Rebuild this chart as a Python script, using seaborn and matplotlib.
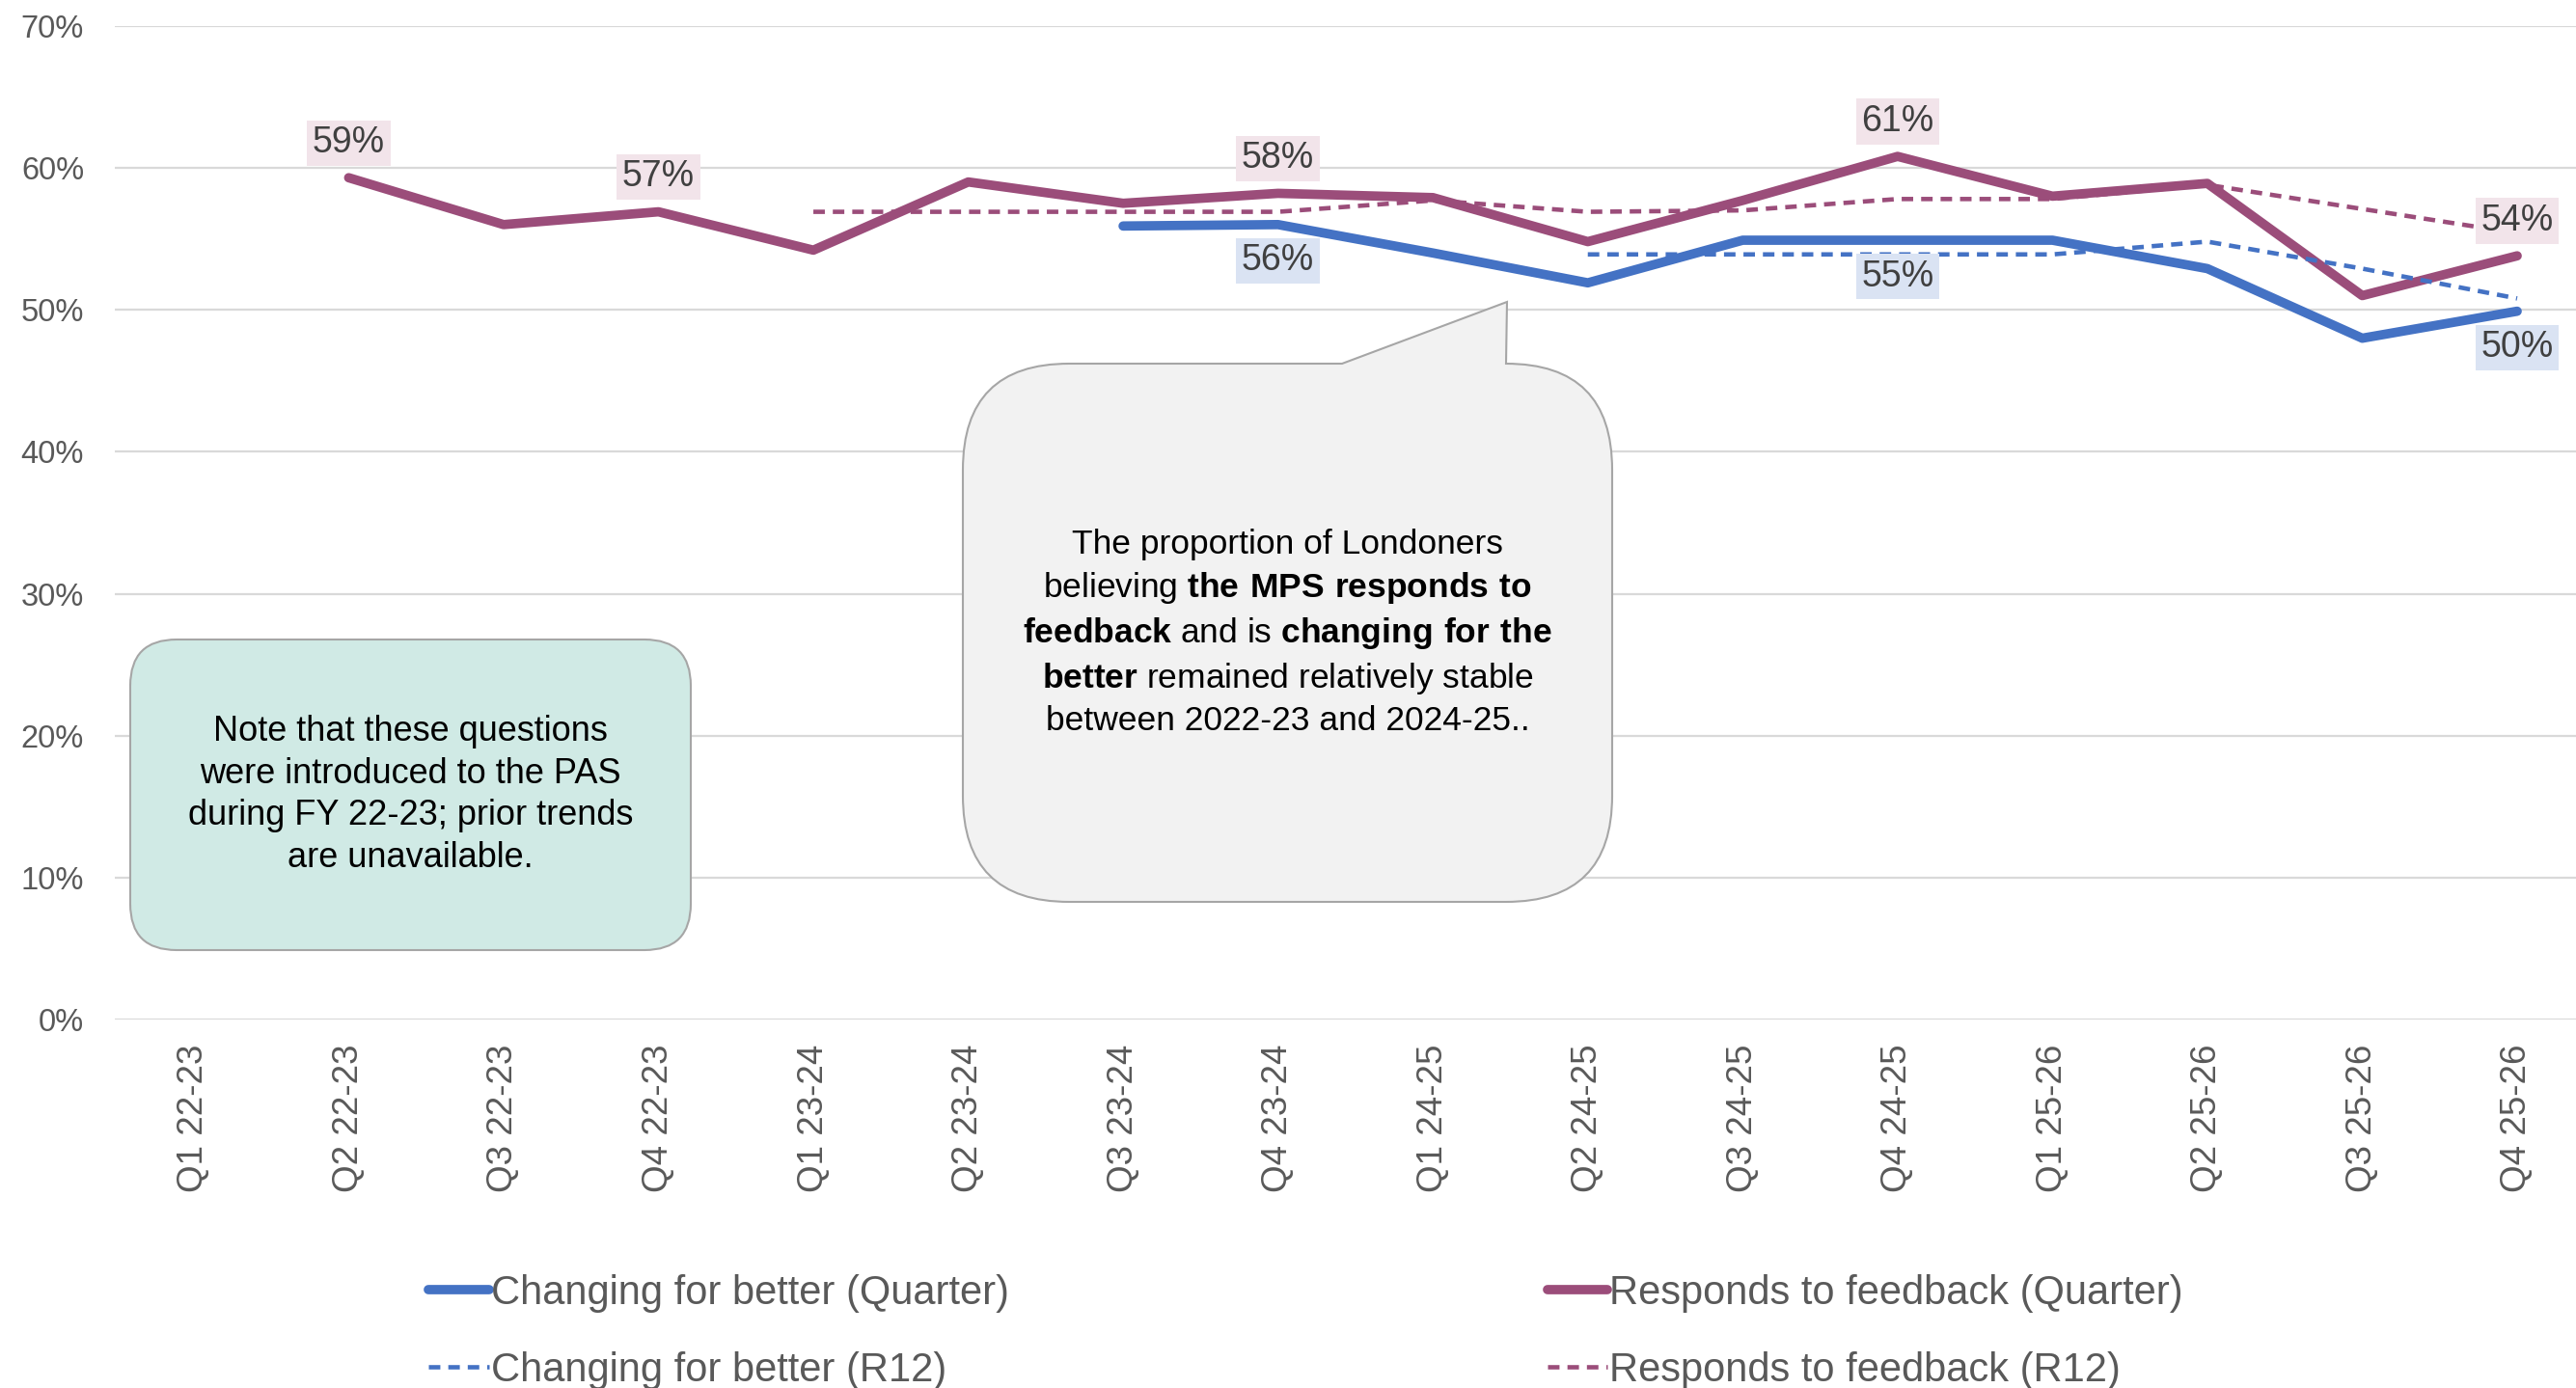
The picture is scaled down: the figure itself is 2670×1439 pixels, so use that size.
import numpy as np
import pandas as pd
import matplotlib
matplotlib.use("Agg")
import matplotlib.pyplot as plt
import seaborn as sns
from matplotlib.patches import FancyBboxPatch, PathPatch
from matplotlib.path import Path

# Datos
quarters = ["Q1 22-23", "Q2 22-23", "Q3 22-23", "Q4 22-23",
            "Q1 23-24", "Q2 23-24", "Q3 23-24", "Q4 23-24",
            "Q1 24-25", "Q2 24-25", "Q3 24-25", "Q4 24-25",
            "Q1 25-26", "Q2 25-26", "Q3 25-26", "Q4 25-26"]
nan = np.nan
changing_q = [nan, nan, nan, nan, nan, nan, 55.9, 56.0,
              54.0, 51.9, 54.9, 54.9, 54.9, 52.9, 48.0, 49.9]
responds_q = [nan, 59.3, 56.0, 56.9, 54.2, 59.0, 57.5, 58.2,
              57.9, 54.8, 57.7, 60.8, 58.0, 58.9, 51.0, 53.8]
changing_r12 = [nan, nan, nan, nan, nan, nan, nan, nan,
                nan, 53.9, 53.9, 53.9, 53.9, 54.8, 52.9, 50.8]
responds_r12 = [nan, nan, nan, nan, 56.9, 56.9, 56.9, 56.9,
                57.7, 56.9, 57.0, 57.8, 57.8, 58.8, 57.1, 55.4]
yticks = [0, 10, 20, 30, 40, 50, 60, 70]

# puntos con etiqueta
responds_lbl_idx = [1, 3, 7, 11, 15]
changing_lbl_idx = [7, 11, 15]

note_text = ("Note that these questions\nwere introduced to the PAS\n"
             "during FY 22-23; prior trends\nare unavailable.")
callout_lines = [
    "The proportion of Londoners",
    r"believing $\mathbf{the\ MPS\ responds\ to}$",
    r"$\mathbf{feedback}$ and is $\mathbf{changing\ for\ the}$",
    r"$\mathbf{better}$ remained relatively stable",
    "between 2022-23 and 2024-25..",
]

BLUE = "#4472C4"
PURPLE = "#9B4D7A"
GREY_TXT = "#595959"

sns.set_theme(style="white")
plt.rcParams["font.family"] = ["Liberation Sans", "DejaVu Sans"]
plt.rcParams["mathtext.fontset"] = "custom"
plt.rcParams["mathtext.rm"] = "Liberation Sans"
plt.rcParams["mathtext.bf"] = "Liberation Sans:bold"

W, H = 2670, 1439
fig = plt.figure(figsize=(W / 100, H / 100), dpi=100)
ax = fig.add_axes([119 / W, 1 - 1057.4 / H, 1 - 119 / W, (1057.4 - 26.7) / H])

x_pos = np.arange(len(quarters))
series = [
    ("Changing for better (Quarter)", changing_q, BLUE, False),
    ("Responds to feedback (Quarter)", responds_q, PURPLE, False),
    ("Changing for better (R12)", changing_r12, BLUE, True),
    ("Responds to feedback (R12)", responds_r12, PURPLE, True),
]
for name, vals, col, dashed in series:
    d = pd.DataFrame({"x": x_pos, "y": vals}).dropna()
    if dashed:
        sns.lineplot(data=d, x="x", y="y", ax=ax, color=col, lw=3.3,
                     linestyle=(0, (2.6, 1.8)), dash_capstyle="butt", label=name)
    else:
        sns.lineplot(data=d, x="x", y="y", ax=ax, color=col, lw=7,
                     solid_capstyle="round", solid_joinstyle="round", label=name)

# etiquetas de datos
for i in responds_lbl_idx:
    v = responds_q[i]
    ax.annotate(f"{v:.0f}%", xy=(i, v), xytext=(0, 26), textcoords="offset points",
                ha="center", va="center", fontsize=27, color="#404040",
                bbox=dict(boxstyle="square,pad=0.15", fc="#F2E4EA", ec="none"))
for i in changing_lbl_idx:
    v = changing_q[i]
    ax.annotate(f"{v:.0f}%", xy=(i, v), xytext=(0, -27), textcoords="offset points",
                ha="center", va="center", fontsize=27, color="#404040",
                bbox=dict(boxstyle="square,pad=0.15", fc="#DAE3F3", ec="none"))

ax.set_xlim(-0.51, 15.38)
ax.set_ylim(0, 70)
ax.set_yticks(yticks)
ax.set_yticklabels([f"{t}%" for t in yticks])
ax.set_xticks(x_pos)
ax.set_xticklabels(quarters, rotation=90)
ax.tick_params(axis="y", labelsize=23.5, colors=GREY_TXT, pad=23, length=0)
ax.tick_params(axis="x", labelsize=26.5, colors=GREY_TXT, pad=18, length=0)
ax.set_xlabel("")
ax.set_ylabel("")
ax.yaxis.grid(True, color="#D9D9D9", lw=1.6)
ax.xaxis.grid(False)
ax.set_axisbelow(True)
for s in ax.spines.values():
    s.set_visible(False)

# leyenda en filas: Quarter arriba, R12 abajo
handles, labels = ax.get_legend_handles_labels()
order = [0, 2, 1, 3]
ax.legend([handles[k] for k in order], [labels[k] for k in order], ncol=2,
          loc="upper left", bbox_to_anchor=(444 / W, 1 - 1321 / H),
          bbox_transform=fig.transFigure, frameon=False, fontsize=30,
          labelcolor=GREY_TXT, handlelength=1.5, handletextpad=0.05,
          columnspacing=13.4, labelspacing=0.95, borderpad=0, borderaxespad=0)

# cuadros de texto (coordenadas en píxeles)
ov = fig.add_axes([0, 0, 1, 1], zorder=5)
ov.set_xlim(0, W)
ov.set_ylim(H, 0)
ov.axis("off")

nx0, nx1, ny0, ny1 = 135, 716, 663, 985
ov.add_patch(FancyBboxPatch((nx0, ny0), nx1 - nx0, ny1 - ny0,
                            boxstyle="round,pad=0,rounding_size=48",
                            fc="#D0EAE5", ec="#A6A6A6", lw=1.5))
ov.text((nx0 + nx1) / 2, (ny0 + ny1) / 2, note_text, ha="center", va="center",
        fontsize=26, color="black", linespacing=1.33)

cx0, cx1, cy0, cy1, r = 998, 1671, 377, 935, 110
tail_l, tip = 1391, (1562, 313)
verts = [(cx0 + r, cy0), (tail_l, cy0), tip, (cx1 - r, cy0),
         (cx1, cy0), (cx1, cy0 + r), (cx1, cy1 - r),
         (cx1, cy1), (cx1 - r, cy1), (cx0 + r, cy1),
         (cx0, cy1), (cx0, cy1 - r), (cx0, cy0 + r),
         (cx0, cy0), (cx0 + r, cy0), (cx0 + r, cy0)]
codes = [Path.MOVETO, Path.LINETO, Path.LINETO, Path.LINETO,
         Path.CURVE3, Path.CURVE3, Path.LINETO,
         Path.CURVE3, Path.CURVE3, Path.LINETO,
         Path.CURVE3, Path.CURVE3, Path.LINETO,
         Path.CURVE3, Path.CURVE3, Path.CLOSEPOLY]
ov.add_patch(PathPatch(Path(verts, codes), fc="#F2F2F2", ec="#A6A6A6", lw=1.5))
ov.text((cx0 + cx1) / 2, (cy0 + cy1) / 2, "\n".join(callout_lines),
        ha="center", va="center", fontsize=25.5, color="black", linespacing=1.36)

fig.savefig("out.png", dpi=100)
